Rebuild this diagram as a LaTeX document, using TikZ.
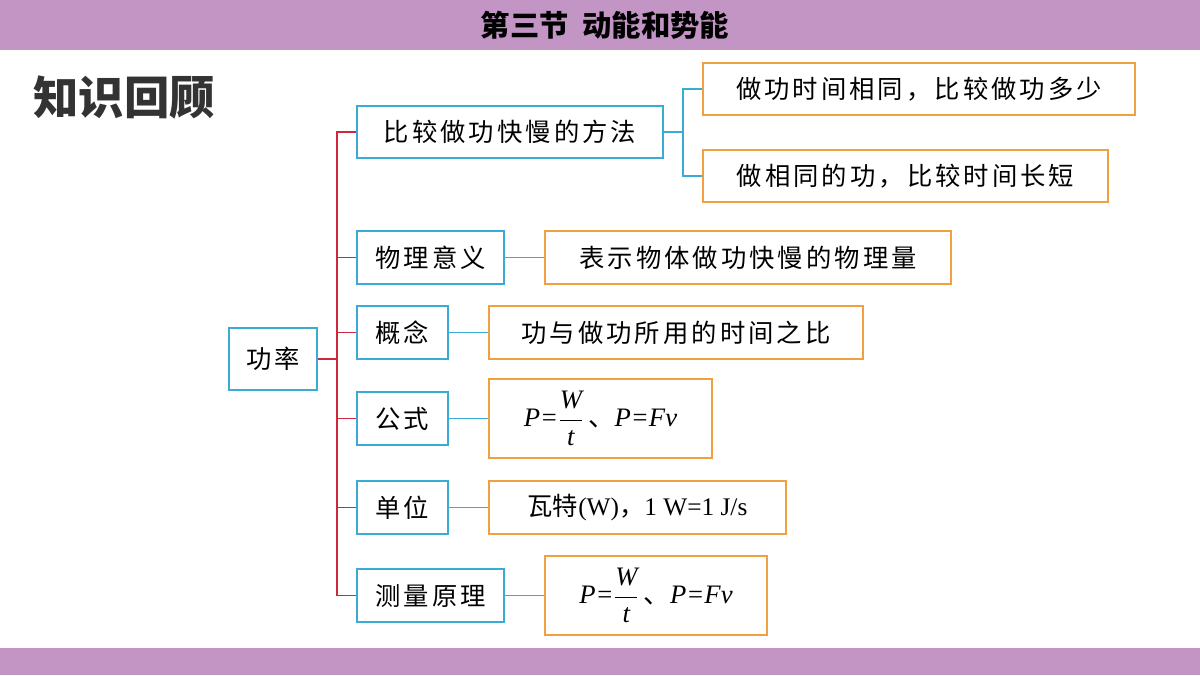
\documentclass[tikz,border=0pt]{standalone}
\usepackage{amsmath}
\usepackage{fontspec}
\setmainfont{Liberation Serif}
\newfontfamily\cjk[LetterSpace=12]{Noto Sans CJK SC}
\newfontfamily\cjkt{Noto Sans CJK SC}
\definecolor{bar}{HTML}{C295C5}
\definecolor{bl}{HTML}{3AAAD6}
\definecolor{og}{HTML}{F0A040}
\definecolor{rd}{HTML}{D0283A}
\begin{document}
\begin{tikzpicture}[x=0.75pt,y=-0.75pt,
 bx/.style={draw=bl,line width=1.2pt,fill=white,inner sep=0pt,font=\cjk\fontsize{19}{19}\selectfont,text=black},
 ob/.style={draw=og,line width=1.2pt,fill=white,inner sep=0pt,font=\cjk\fontsize{19}{19}\selectfont,text=black},
 rl/.style={draw=rd,line width=0.9pt},
 bll/.style={draw=bl,line width=0.9pt}]
\useasboundingbox (0,0) rectangle (1200,675);
\fill[bar] (0,0) rectangle (1200,50);
\fill[bar] (0,648) rectangle (1200,675);
\node (title) at (605,25) {\cjkt\bfseries\fontsize{22}{22}\selectfont 第三节\ \ 动能和势能};
\node (kh) at (124,98) {\cjkt\bfseries\fontsize{34}{34}\selectfont\color{black!80} 知识回顾};
\newcommand\bxn[7]{\node[#1,minimum width={(#4-#3)*0.75pt},minimum height={(#6-#5)*0.75pt}] (#2) at ({(#3+#4)/2},{(#5+#6)/2}) {#7};}
\newcommand\frm{\fontsize{20}{20}\selectfont\rmfamily\itshape P={\upshape$\dfrac{\text{\itshape W}}{\text{\itshape t}}$}\,{\cjkt 、}P=Fv}
\bxn{bx}{root}{229}{317}{328}{390}{功率}
\bxn{bx}{a}{357}{663}{106}{158}{比较做功快慢的方法}
\bxn{ob}{a1}{703}{1135}{63}{115}{做功时间相同，比较做功多少}
\bxn{ob}{a2}{703}{1108}{150}{202}{做相同的功，比较时间长短}
\bxn{bx}{b}{357}{504}{231}{284}{物理意义}
\bxn{ob}{b1}{545}{951}{231}{284}{表示物体做功快慢的物理量}
\bxn{bx}{c}{357}{448}{306}{359}{概念}
\bxn{ob}{c1}{489}{863}{306}{359}{功与做功所用的时间之比}
\bxn{bx}{d}{357}{448}{392}{445}{公式}
\bxn{ob}{d1}{489}{712}{379}{458}{\frm}
\bxn{bx}{e}{357}{448}{481}{534}{单位}
\bxn{ob}{e1}{489}{786}{481}{534}{{\cjkt 瓦特}\rmfamily(W){\cjkt ，}1 W=1 J/s}
\bxn{bx}{f}{357}{504}{569}{622}{测量原理}
\bxn{ob}{f1}{545}{767}{556}{635}{\frm}
\coordinate (t) at (337,359);
\draw[rl] (root.east) -- (t);
\foreach \n in {a,b,c,d,e,f} \draw[rl] (t) |- (\n.west);
\coordinate (s) at (683,132);
\draw[bll] (a.east) -- (s);
\draw[bll] (s) |- (a1.west);
\draw[bll] (s) |- (a2.west);
\foreach \n in {b,c,d,e,f} \draw[bll] (\n.east) -- (\n1.west);
\end{tikzpicture}
\end{document}
